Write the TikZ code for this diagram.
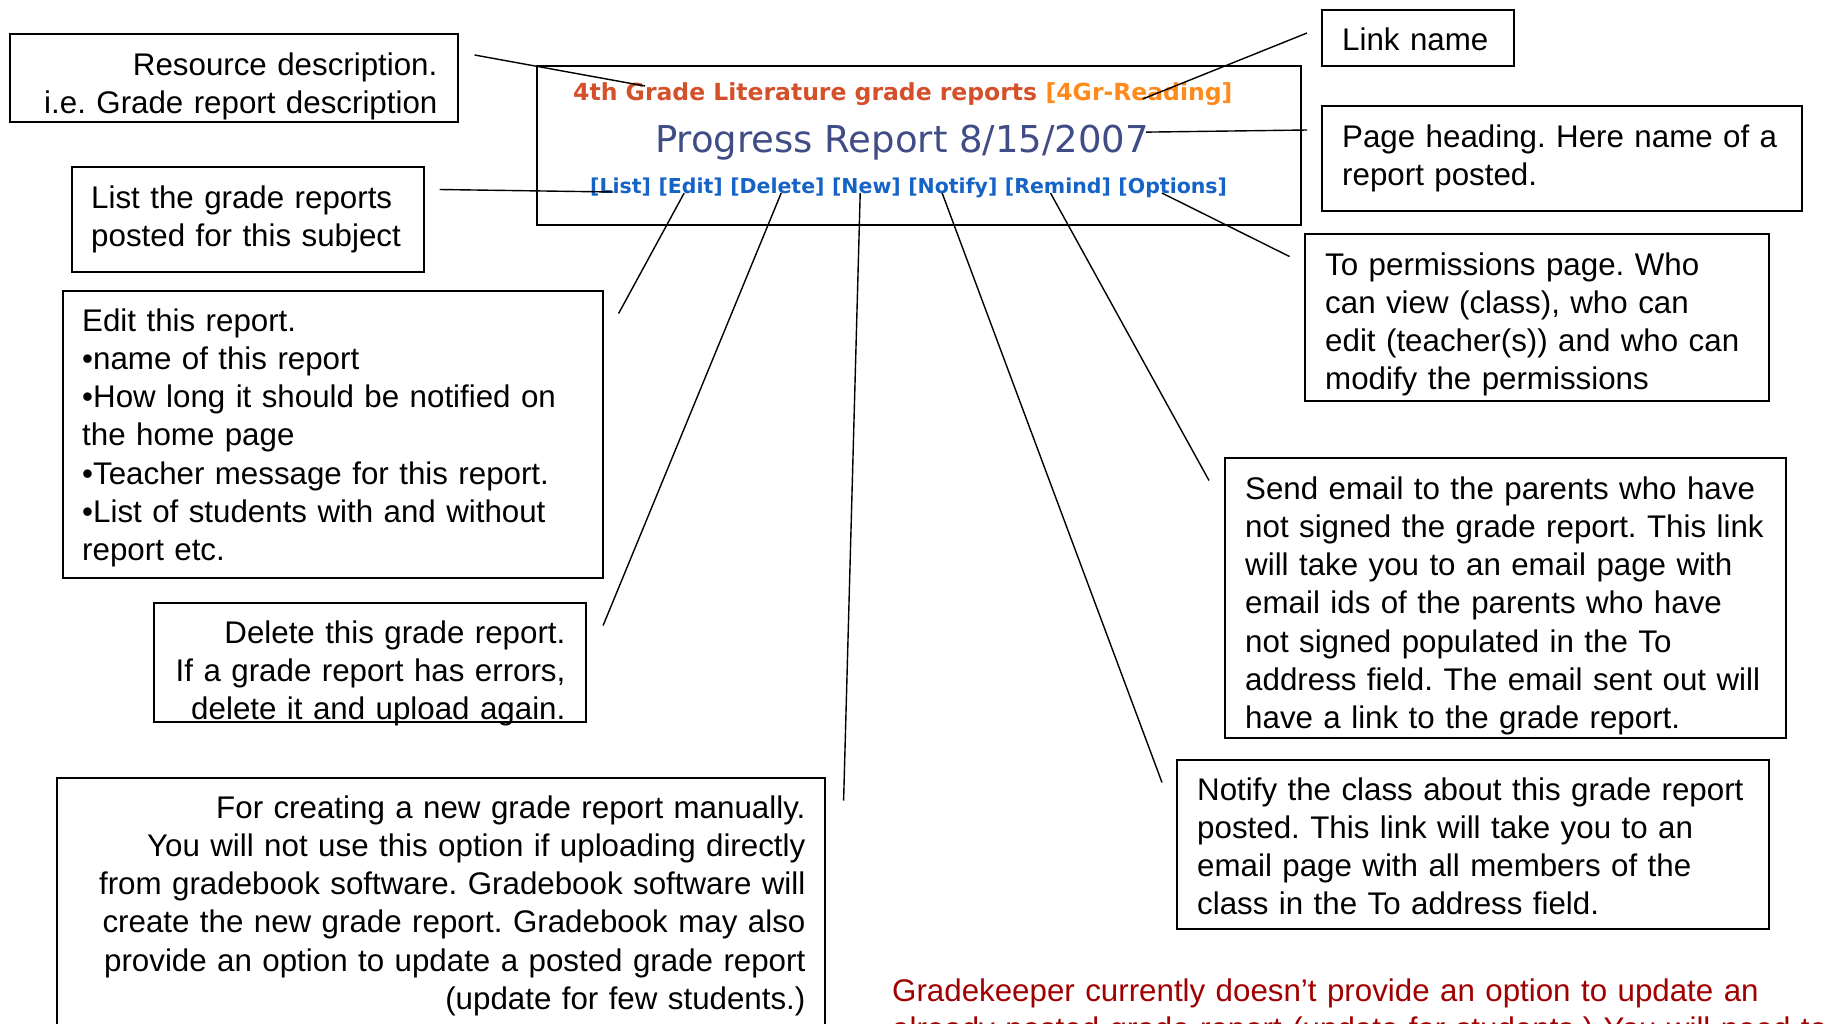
\documentclass[tikz,border=0pt]{standalone}
\usepackage{fontspec}
\setmainfont{Liberation Sans}
\newfontfamily\webfont{DejaVu Sans}
\usetikzlibrary{calc,positioning}
\definecolor{titlered}{HTML}{D4502A}
\definecolor{tagorange}{HTML}{FF8A1C}
\definecolor{headblue}{HTML}{404C86}
\definecolor{linkblue}{HTML}{1563C6}
\definecolor{notered}{HTML}{A00000}
\frenchspacing

\begin{document}
\begin{tikzpicture}[x=1pt,y=-1pt,
  frame/.style={draw=black, line width=1.6pt, inner sep=0pt, anchor=north west},
  note/.style={font=\fontsize{31.3}{38.3}\selectfont, inner sep=0pt, text width=#1},
  lead/.style={draw=black, line width=1.4pt},
  weblink/.style={font=\webfont\bfseries\fontsize{20.5}{24}\selectfont, text=linkblue,
    inner sep=0pt, anchor=base west}]

\useasboundingbox (0,0) rectangle (1846,1023);

% ---------- web page extract ----------
\node[frame, minimum width=764pt, minimum height=159pt] (shot) at (536,65) {};
\node[anchor=base west, inner sep=0pt, text=titlered,
      font=\webfont\bfseries\fontsize{23.5}{27}\selectfont] (title) at (573,100)
      {4th Grade Literature grade reports};
\node[anchor=base west, inner sep=0pt, text=tagorange,
      font=\webfont\bfseries\fontsize{23.5}{27}\selectfont] (tag) at ($(title.base east)+(8,0)$)
      {[4Gr-Reading]};
\node[anchor=base west, inner sep=0pt, text=headblue,
      font=\webfont\fontsize{37}{42}\selectfont] (prog) at (655,152)
      {Progress Report 8/15/2007};

\node[weblink] (lList) at (590,193) {[List]};
\node[weblink] (lEdit) at ($(lList.base east)+(7.1,0)$) {[Edit]};
\node[weblink] (lDel) at ($(lEdit.base east)+(7.1,0)$) {[Delete]};
\node[weblink] (lNew) at ($(lDel.base east)+(7.1,0)$) {[New]};
\node[weblink] (lNotify) at ($(lNew.base east)+(7.1,0)$) {[Notify]};
\node[weblink] (lRemind) at ($(lNotify.base east)+(7.1,0)$) {[Remind]};
\node[weblink] (lOpt) at ($(lRemind.base east)+(7.1,0)$) {[Options]};

% ---------- explanation boxes ----------
\node[frame, minimum width=448pt, minimum height=88pt] (resbox) at (9,33) {};
\node[note=430pt, align=right, anchor=base east] (restext)
  at ($(resbox.north east)+(-21,42)$)
  {Resource description.\\ i.e. Grade report description};

\node[frame, minimum width=352pt, minimum height=105pt] (listbox) at (71,166) {};
\node[note=330pt, align=left, anchor=base west] (listtext)
  at ($(listbox.north west)+(20,42)$)
  {List the grade reports\\ posted for this subject};

\node[frame, minimum width=540pt, minimum height=287pt] (editbox) at (62,290) {};
\node[note=510pt, align=left, anchor=base west] (edittext)
  at ($(editbox.north west)+(20,41)$)
  {Edit this report.\\
   •name of this report\\
   •How long it should be notified on\\
   the home page\\
   •Teacher message for this report.\\
   •List of students with and without\\
   report etc.};

\node[frame, minimum width=432pt, minimum height=119pt] (delbox) at (153,602) {};
\node[note=420pt, align=right, anchor=base east] (deltext)
  at ($(delbox.north east)+(-21,41)$)
  {Delete this grade report.\\
   If a grade report has errors,\\
   delete it and upload again.};

\node[frame, minimum width=768pt, minimum height=300pt] (newbox) at (56,777) {};
\node[note=740pt, align=right, anchor=base east] (newtext)
  at ($(newbox.north east)+(-20,41)$)
  {For creating a new grade report manually.\\
   You will not use this option if uploading directly\\
   from gradebook software. Gradebook software will\\
   create the new grade report. Gradebook may also\\
   provide an option to update a posted grade report\\
   (update for few students.)};

\node[frame, minimum width=192pt, minimum height=56pt] (linkbox) at (1321,9) {};
\node[note=170pt, align=left, anchor=base west] (linktext)
  at ($(linkbox.north west)+(21,41)$) {Link name};

\node[frame, minimum width=480pt, minimum height=105pt] (headbox) at (1321,105) {};
\node[note=460pt, align=left, anchor=base west] (headtext)
  at ($(headbox.north west)+(21,42)$)
  {Page heading. Here name of a\\ report posted.};

\node[frame, minimum width=464pt, minimum height=167pt] (permbox) at (1304,233) {};
\node[note=440pt, align=left, anchor=base west] (permtext)
  at ($(permbox.north west)+(21,42)$)
  {To permissions page. Who\\
   can view (class), who can\\
   edit (teacher(s)) and who can\\
   modify the permissions};

\node[frame, minimum width=561pt, minimum height=280pt] (sendbox) at (1224,457) {};
\node[note=540pt, align=left, anchor=base west] (sendtext)
  at ($(sendbox.north west)+(21,42)$)
  {Send email to the parents who have\\
   not signed the grade report. This link\\
   will take you to an email page with\\
   email ids of the parents who have\\
   not signed populated in the To\\
   address field. The email sent out will\\
   have a link to the grade report.};

\node[frame, minimum width=592pt, minimum height=169pt] (notifybox) at (1176,759) {};
\node[note=570pt, align=left, anchor=base west] (notifytext)
  at ($(notifybox.north west)+(21,41)$)
  {Notify the class about this grade report\\
   posted. This link will take you to an\\
   email page with all members of the\\
   class in the To address field.};

\node[note=1000pt, align=left, anchor=base west, text=notered] (gkremark) at (892,1001)
  {Gradekeeper currently doesn’t provide an option to update an\\
   already posted grade report (update for students.) You will need to};

% ---------- leader lines ----------
\coordinate (resfoot) at ($(resbox.north east)+(16,22)$);
\coordinate (listfoot) at ($(listbox.north east)+(15,23.5)$);
\coordinate (editfoot) at ($(editbox.north east)+(15,23.5)$);
\coordinate (delfoot) at ($(delbox.north east)+(16.5,23.5)$);
\coordinate (newfoot) at ($(newbox.north east)+(18,23.5)$);
\coordinate (linkfoot) at ($(linkbox.north west)+(-14,24)$);
\coordinate (headfoot) at ($(headbox.north west)+(-14,25)$);
\coordinate (permfoot) at ($(permbox.north west)+(-14.5,23.5)$);
\coordinate (sendfoot) at ($(sendbox.north west)+(-15,23.5)$);
\coordinate (notifyfoot) at ($(notifybox.north west)+(-14,23.5)$);

\draw[lead] (resfoot) -- ($(title.base west)!0.155!(title.base east)+(0,-14)$);
\draw[lead] (linkfoot) -- ($(tag.base west)!0.52!(tag.base east)+(0,-1)$);
\draw[lead] (headfoot) -- ($(prog.east)+(-3,-10)$);
\draw[lead] (listfoot) -- ($(lList.base west)!0.38!(lList.base east)+(0,-1)$);
\draw[lead] (editfoot) -- ($(lEdit.base west)!0.40!(lEdit.base east)$);
\draw[lead] (delfoot) -- ($(lDel.base west)!0.54!(lDel.base east)$);
\draw[lead] (newfoot) -- ($(lNew.base west)!0.41!(lNew.base east)$);
\draw[lead] (notifyfoot) -- ($(lNotify.base west)!0.38!(lNotify.base east)$);
\draw[lead] (sendfoot) -- ($(lRemind.base west)!0.43!(lRemind.base east)$);
\draw[lead] (permfoot) -- ($(lOpt.base west)!0.40!(lOpt.base east)$);
\end{tikzpicture}
\end{document}
